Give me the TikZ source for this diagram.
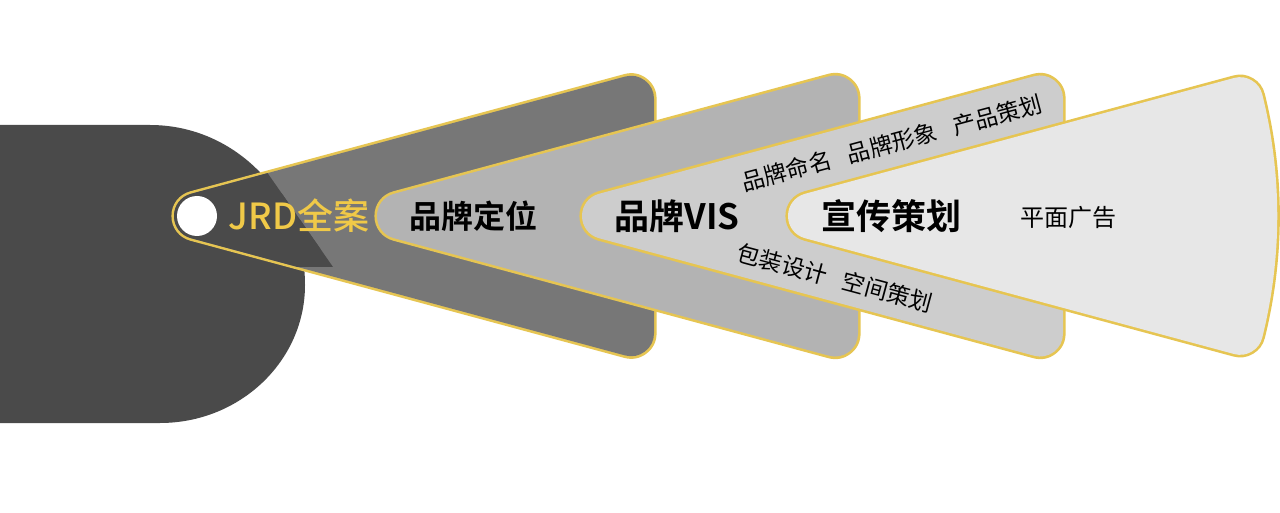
\documentclass[tikz,border=0pt]{standalone}
\usepackage{fontspec}
\setmainfont{Noto Sans CJK SC}[BoldFont={Noto Sans CJK SC Bold}]
\newfontfamily\medfont{Noto Sans CJK SC Medium}
\definecolor{darkbg}{HTML}{4A4A4A}
\definecolor{wone}{HTML}{777777}
\definecolor{wtwo}{HTML}{B3B3B3}
\definecolor{wthree}{HTML}{CDCDCD}
\definecolor{wfour}{HTML}{E7E7E7}
\definecolor{gold}{HTML}{E6C552}
\definecolor{goldtext}{HTML}{F0C948}
\tikzset{
  wedgeedge/.style={draw=gold, fill=gold, line width=25.6pt, line join=round},
  wedgebody/.style={draw=#1, fill=#1, line width=23pt, line join=round},
  mainlabel/.style={font=\bfseries\fontsize{16}{16}\selectfont, text=black, inner sep=0pt},
  sublabel/.style={font=\fontsize{11.5}{11.5}\selectfont, text=black, inner sep=0pt}
}
\begin{document}
\begin{tikzpicture}[x=0.5pt,y=-0.5pt]
\useasboundingbox (0,0) rectangle (1280,513);
\fill[white] (0,0) rectangle (1280,513);
% dark base shape
\fill[darkbg] (0,125) -- (150,125) .. controls (236,125) and (305,197) .. (305,285)
  .. controls (305,361) and (240,423) .. (160,423) -- (0,423) -- cycle;
% wedge 1
\path[wedgeedge] (197,216) -- (631,98.8) -- (631,333.2) -- cycle;
\path[wedgebody=wone] (197,216) -- (631,98.8) -- (631,333.2) -- cycle;
\begin{scope}
  \clip (0,0) -- (147,0) -- (333,267) -- (0,267) -- cycle;
  \path[wedgebody=darkbg] (197,216) -- (631,98.8) -- (631,333.2) -- cycle;
\end{scope}
\fill[white] (197,216) circle[radius=20];
% wedge 2
\path[wedgeedge] (400,216) -- (835,98.5) -- (835,333.5) -- cycle;
\path[wedgebody=wtwo] (400,216) -- (835,98.5) -- (835,333.5) -- cycle;
% wedge 3
\path[wedgeedge] (605,216) -- (1040,98.5) -- (1040,333.5) -- cycle;
\path[wedgebody=wthree] (605,216) -- (1040,98.5) -- (1040,333.5) -- cycle;
% wedge 4
\path[wedgeedge] (811,216) -- (1240,100.2) .. controls (1259,177) and (1259,255) .. (1240,331.8) -- cycle;
\path[wedgebody=wfour] (811,216) -- (1240,100.2) .. controls (1259,177) and (1259,255) .. (1240,331.8) -- cycle;
% labels
\node[font=\medfont\fontsize{18}{18}\selectfont, text=goldtext, inner sep=0pt] (jrd) at (299,216) {JRD全案};
\node[mainlabel] (pos) at (473,216) {品牌定位};
\node[mainlabel, font=\bfseries\fontsize{17.5}{17.5}\selectfont] (vis) at (677,216) {品牌VIS};
\node[mainlabel, font=\bfseries\fontsize{17.5}{17.5}\selectfont] (promo) at (891,216) {宣传策划};
\node[font=\fontsize{12}{12}\selectfont, inner sep=0pt] (ad) at (1068,217) {平面广告};
\node[sublabel, rotate=15] (topitems) at (892,143) {品牌命名\hspace{8.5pt}品牌形象\hspace{8.5pt}产品策划};
\node[sublabel, rotate=-15] (botitems) at (835,278) {包装设计\hspace{8.5pt}空间策划};
\end{tikzpicture}
\end{document}
